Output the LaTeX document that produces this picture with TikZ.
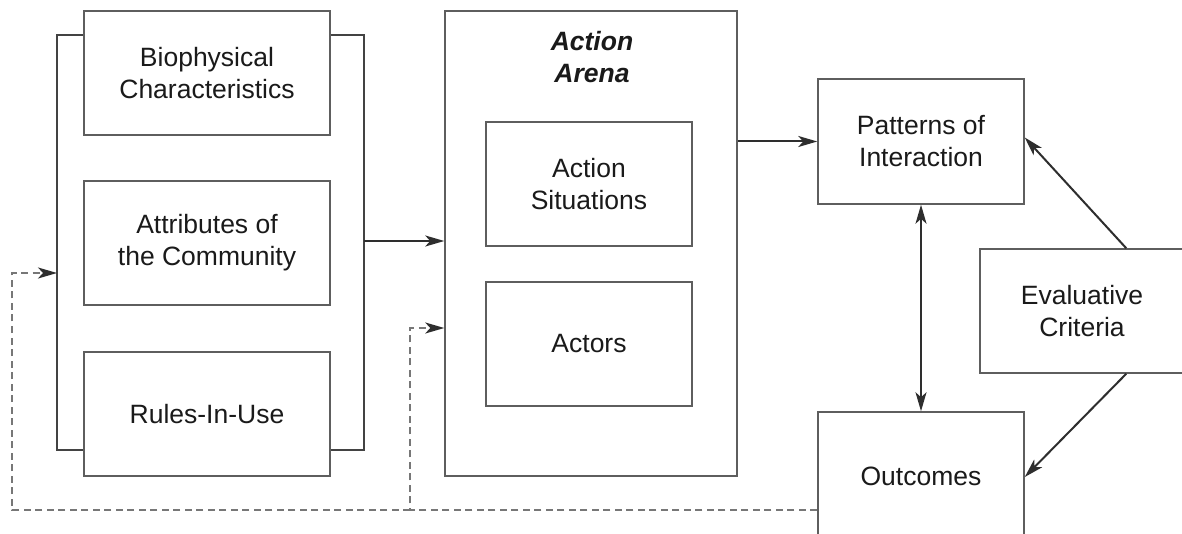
\documentclass[tikz,border=0pt]{standalone}
\usepackage{fontspec}
\setmainfont{Liberation Sans}
\usetikzlibrary{arrows.meta,calc}
\definecolor{boxc}{HTML}{5E5E5E}
\definecolor{linec}{HTML}{2E2E2E}
\definecolor{dashc}{HTML}{777777}
\definecolor{txtc}{HTML}{1A1A1A}
\tikzset{
  tip/.tip={Stealth[length=19pt,width=11pt,inset=5pt]},
  box/.style={draw=boxc, line width=1.5pt, fill=white, align=center,
    text=txtc, font=\fontsize{26.5}{32}\selectfont, inner sep=0pt},
  arr/.style={draw=linec, line width=2pt, -tip},
  darr/.style={draw=linec, line width=2pt, tip-tip},
  fb/.style={draw=dashc, line width=1.8pt, dash pattern=on 7pt off 4.5pt},
  fbarr/.style={fb, -{Stealth[length=19pt,width=11pt,inset=5pt,color=linec]}},
  bracketline/.style={draw=linec!90, line width=2.6pt},
}
\begin{document}
\begin{tikzpicture}[x=1pt,y=-1pt]
\useasboundingbox (0,0) rectangle (1182,534);
\clip (0,0) rectangle (1182,534);
\fill[white] (0,0) rectangle (1182,534);
% bracket behind left boxes
\draw[bracketline] (57,35) rectangle (364,450);
\node[box, minimum width=246pt, minimum height=124pt] (bio) at (207,73) {Biophysical\\Characteristics};
\node[box, minimum width=246pt, minimum height=124pt] (attr) at (207,243) {Attributes of\\the Community};
\node[box, minimum width=246pt, minimum height=124pt] (rules) at (207,414) {Rules-In-Use};
\coordinate (brR) at (364,241);
\coordinate (brL) at (57,273);
% action arena
\node[box, minimum width=292pt, minimum height=465pt] (arena) at (591,243.5) {};
\node[text=txtc, font=\fontsize{26.5}{32}\selectfont\bfseries\itshape, align=center, inner sep=0pt] (arenatitle) at (592,57) {Action\\Arena};
\node[box, minimum width=206pt, minimum height=124pt] (sit) at (589,184) {Action\\Situations};
\node[box, minimum width=206pt, minimum height=124pt] (actors) at (589,344) {Actors};
% right side
\node[box, minimum width=206pt, minimum height=125pt] (pat) at (921,141.5) {Patterns of\\Interaction};
\node[box, minimum width=206pt, minimum height=132pt] (out) at (921,478) {\raisebox{4pt}{Outcomes}};
\node[box, minimum width=214pt, minimum height=124pt, text width=204pt] (eval) at (1087,311) {\hspace*{-10pt}Evaluative\\\hspace*{-10pt}Criteria};
% connectors
\draw[arr] (brR) -- (arena.west |- brR);
\draw[arr] (arena.east |- pat.west) -- (pat.west);
\draw[darr] (pat.south) -- (out.north);
\draw[arr] ([xshift=147pt]eval.north west) -- ([yshift=4pt]pat.east);
\draw[arr] ([xshift=147pt]eval.south west) -- ([yshift=1pt]out.east);
% feedback dashed
\coordinate (jn) at (410,510);
\draw[fbarr] ([yshift=-32pt]out.west) -- (jn) |- (arena.west |- 0,328);
\draw[fbarr] (jn) -- (12,510) |- (brL);
\end{tikzpicture}
\end{document}
